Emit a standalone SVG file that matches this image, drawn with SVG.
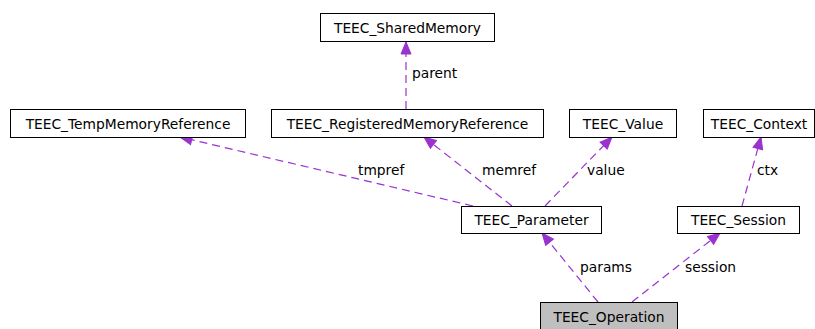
<svg xmlns="http://www.w3.org/2000/svg" width="815" height="329" viewBox="0 0 815 329">
<style>
.box{fill:#ffffff;stroke:#000000;stroke-width:1}
.hl{fill:#bfbfbf;stroke:#000000;stroke-width:1}
.t{font-family:"DejaVu Sans",sans-serif;font-size:13.8px;fill:#000000}
.e{stroke:#9a32cd;stroke-width:1.2;stroke-dasharray:8,5;fill:none}
.lbl{font-family:"DejaVu Sans",sans-serif;font-size:13.8px;fill:#000000}
</style>
<defs>
<marker id="ah" markerUnits="userSpaceOnUse" markerWidth="14" markerHeight="12" refX="13" refY="6" orient="auto">
<path d="M1,1 L13,6 L1,11 Z" fill="#9a32cd" stroke="#9a32cd"/>
</marker>
</defs>
<rect width="815" height="329" fill="#ffffff"/>
<g id="edges">
<line class="e" x1="406" y1="109" x2="406" y2="42" marker-end="url(#ah)"/>
<line class="e" x1="473" y1="206" x2="180" y2="137" marker-end="url(#ah)"/>
<line class="e" x1="512" y1="206" x2="424" y2="137" marker-end="url(#ah)"/>
<line class="e" x1="545" y1="206" x2="612" y2="137" marker-end="url(#ah)"/>
<line class="e" x1="742" y1="206" x2="761" y2="137" marker-end="url(#ah)"/>
<line class="e" x1="598" y1="302" x2="542" y2="233" marker-end="url(#ah)"/>
<line class="e" x1="632" y1="302" x2="720" y2="233" marker-end="url(#ah)"/>
<text class="lbl" x="412" y="78">parent</text>
<text class="lbl" x="358" y="175">tmpref</text>
<text class="lbl" x="482" y="175">memref</text>
<text class="lbl" x="587" y="175">value</text>
<text class="lbl" x="757" y="175">ctx</text>
<text class="lbl" x="580" y="272">params</text>
<text class="lbl" x="685" y="272">session</text>
</g>
<g id="TEEC_SharedMemory">
<rect class="box" x="320.5" y="13.5" width="174" height="28"/>
<text class="t" x="407.5" y="32.5" text-anchor="middle">TEEC_SharedMemory</text>
</g>
<g id="TEEC_TempMemoryReference">
<rect class="box" x="10.5" y="109.5" width="235" height="28"/>
<text class="t" x="128" y="128.5" text-anchor="middle">TEEC_TempMemoryReference</text>
</g>
<g id="TEEC_RegisteredMemoryReference">
<rect class="box" x="271.5" y="109.5" width="272" height="28"/>
<text class="t" x="407.5" y="128.5" text-anchor="middle">TEEC_RegisteredMemoryReference</text>
</g>
<g id="TEEC_Value">
<rect class="box" x="569.5" y="109.5" width="107" height="28"/>
<text class="t" x="623" y="128.5" text-anchor="middle">TEEC_Value</text>
</g>
<g id="TEEC_Context">
<rect class="box" x="703.5" y="109.5" width="111" height="28"/>
<text class="t" x="759" y="128.5" text-anchor="middle">TEEC_Context</text>
</g>
<g id="TEEC_Parameter">
<rect class="box" x="461.5" y="206.5" width="140" height="27"/>
<text class="t" x="531.5" y="224.5" text-anchor="middle">TEEC_Parameter</text>
</g>
<g id="TEEC_Session">
<rect class="box" x="677.5" y="206.5" width="122" height="27"/>
<text class="t" x="738.5" y="224.5" text-anchor="middle">TEEC_Session</text>
</g>
<g id="TEEC_Operation">
<rect class="hl" x="540.5" y="302.5" width="137" height="28"/>
<text class="t" x="609" y="321.5" text-anchor="middle">TEEC_Operation</text>
</g>
</svg>
